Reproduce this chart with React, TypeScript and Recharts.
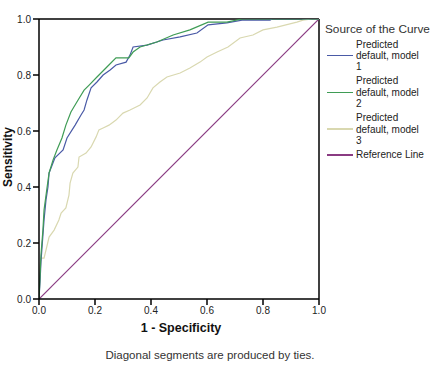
import { Line, LineChart, ReferenceLine, XAxis, YAxis } from "recharts";

type Pt = { x: number; y: number };

// ROC points: x = 1 - specificity, y = sensitivity
const model1: Pt[] = [
  { x: 0, y: 0 }, { x: 0.004, y: 0.068 }, { x: 0.007, y: 0.132 }, { x: 0.018, y: 0.282 },
  { x: 0.025, y: 0.354 }, { x: 0.032, y: 0.4 }, { x: 0.036, y: 0.45 }, { x: 0.057, y: 0.504 },
  { x: 0.086, y: 0.532 }, { x: 0.1, y: 0.575 }, { x: 0.129, y: 0.621 }, { x: 0.15, y: 0.657 },
  { x: 0.161, y: 0.675 }, { x: 0.171, y: 0.71 }, { x: 0.186, y: 0.754 }, { x: 0.207, y: 0.775 },
  { x: 0.229, y: 0.8 }, { x: 0.254, y: 0.818 }, { x: 0.275, y: 0.836 }, { x: 0.311, y: 0.846 },
  { x: 0.325, y: 0.871 }, { x: 0.336, y: 0.9 }, { x: 0.386, y: 0.907 }, { x: 0.443, y: 0.925 },
  { x: 0.504, y: 0.936 }, { x: 0.564, y: 0.95 }, { x: 0.604, y: 0.979 }, { x: 0.671, y: 0.986 },
  { x: 0.725, y: 0.996 }, { x: 0.825, y: 0.996 }, { x: 0.832, y: 1 }, { x: 1, y: 1 },
];

const model2: Pt[] = [
  { x: 0, y: 0 }, { x: 0.004, y: 0.086 }, { x: 0.007, y: 0.157 }, { x: 0.014, y: 0.246 },
  { x: 0.018, y: 0.318 }, { x: 0.029, y: 0.4 }, { x: 0.036, y: 0.45 }, { x: 0.05, y: 0.496 },
  { x: 0.064, y: 0.532 }, { x: 0.082, y: 0.575 }, { x: 0.096, y: 0.621 }, { x: 0.114, y: 0.668 },
  { x: 0.139, y: 0.71 }, { x: 0.161, y: 0.746 }, { x: 0.179, y: 0.764 }, { x: 0.207, y: 0.793 },
  { x: 0.239, y: 0.825 }, { x: 0.275, y: 0.861 }, { x: 0.321, y: 0.861 }, { x: 0.336, y: 0.882 },
  { x: 0.361, y: 0.9 }, { x: 0.421, y: 0.918 }, { x: 0.479, y: 0.943 }, { x: 0.539, y: 0.961 },
  { x: 0.604, y: 0.989 }, { x: 0.671, y: 0.989 }, { x: 0.725, y: 1 }, { x: 1, y: 1 },
];

const model3: Pt[] = [
  { x: 0, y: 0 }, { x: 0.002, y: 0.05 }, { x: 0.004, y: 0.121 }, { x: 0.007, y: 0.146 },
  { x: 0.018, y: 0.146 }, { x: 0.025, y: 0.175 }, { x: 0.036, y: 0.221 }, { x: 0.054, y: 0.246 },
  { x: 0.071, y: 0.282 }, { x: 0.079, y: 0.307 }, { x: 0.096, y: 0.325 }, { x: 0.107, y: 0.371 },
  { x: 0.111, y: 0.414 }, { x: 0.121, y: 0.45 }, { x: 0.139, y: 0.471 }, { x: 0.143, y: 0.507 },
  { x: 0.168, y: 0.521 }, { x: 0.186, y: 0.543 }, { x: 0.204, y: 0.579 }, { x: 0.214, y: 0.604 },
  { x: 0.229, y: 0.611 }, { x: 0.25, y: 0.621 }, { x: 0.275, y: 0.639 }, { x: 0.3, y: 0.664 },
  { x: 0.325, y: 0.675 }, { x: 0.361, y: 0.693 }, { x: 0.386, y: 0.718 }, { x: 0.407, y: 0.754 },
  { x: 0.432, y: 0.775 }, { x: 0.457, y: 0.793 }, { x: 0.504, y: 0.807 }, { x: 0.539, y: 0.825 },
  { x: 0.575, y: 0.846 }, { x: 0.6, y: 0.864 }, { x: 0.636, y: 0.882 }, { x: 0.675, y: 0.9 },
  { x: 0.718, y: 0.932 }, { x: 0.764, y: 0.943 }, { x: 0.8, y: 0.961 }, { x: 0.85, y: 0.971 },
  { x: 0.921, y: 0.989 }, { x: 0.943, y: 0.996 }, { x: 0.975, y: 1 }, { x: 1, y: 1 },
];

const reference: Pt[] = [{ x: 0, y: 0 }, { x: 1, y: 1 }];

const ticks = [0, 0.2, 0.4, 0.6, 0.8, 1];

const legendItems = [
  { label: ["Predicted", "default, model", "1"], color: "#4a5aa6" },
  { label: ["Predicted", "default, model", "2"], color: "#3f9c55" },
  { label: ["Predicted", "default, model", "3"], color: "#d9d8b0" },
  { label: ["Reference Line"], color: "#8a3b82" },
];

const font = '"Liberation Sans", Arial, sans-serif';
const tickStyle = { fill: "#222", fontSize: 10, fontFamily: font };

function App() {
  return (
    <div
      style={{
        position: "absolute",
        left: 0,
        top: 0,
        width: 430,
        height: 375,
        background: "#fff",
        fontFamily: font,
      }}
    >
      <LineChart
        width={430}
        height={375}
        margin={{ top: 19, right: 111, bottom: 46, left: 9 }}
      >
        <XAxis
          type="number"
          dataKey="x"
          domain={[0, 1]}
          ticks={ticks}
          tickFormatter={(v: number) => v.toFixed(1)}
          height={30}
          tickSize={6}
          stroke="#000"
          strokeWidth={1.5}
          tick={tickStyle}
          allowDataOverflow
        />
        <YAxis
          type="number"
          dataKey="y"
          domain={[0, 1]}
          ticks={ticks}
          tickFormatter={(v: number) => v.toFixed(1)}
          width={30}
          tickSize={6}
          stroke="#000"
          strokeWidth={1.5}
          tick={tickStyle}
          allowDataOverflow
        />
        <ReferenceLine y={1} stroke="#000" strokeWidth={1.5} />
        <ReferenceLine x={1} stroke="#000" strokeWidth={1.5} />
        <Line data={reference} dataKey="y" stroke="#8a3b82" strokeWidth={1.2} dot={false} isAnimationActive={false} />
        <Line data={model3} dataKey="y" stroke="#d9d8b0" strokeWidth={1.2} dot={false} isAnimationActive={false} />
        <Line data={model1} dataKey="y" stroke="#4a5aa6" strokeWidth={1.2} dot={false} isAnimationActive={false} />
        <Line data={model2} dataKey="y" stroke="#3f9c55" strokeWidth={1.2} dot={false} isAnimationActive={false} />
      </LineChart>

      <div
        style={{
          position: "absolute",
          left: -42,
          top: 150,
          width: 100,
          textAlign: "center",
          transform: "rotate(-90deg)",
          fontSize: 12,
          fontWeight: "bold",
          color: "#111",
        }}
      >
        Sensitivity
      </div>
      <div
        style={{
          position: "absolute",
          left: 41,
          top: 321,
          width: 280,
          textAlign: "center",
          fontSize: 12.5,
          fontWeight: "bold",
          color: "#111",
        }}
      >
        1 - Specificity
      </div>
      <div
        style={{
          position: "absolute",
          left: 60,
          top: 349,
          width: 300,
          textAlign: "center",
          fontSize: 11.5,
          color: "#333",
        }}
      >
        Diagonal segments are produced by ties.
      </div>

      <div style={{ position: "absolute", left: 325, top: 22, color: "#333" }}>
        <div style={{ fontSize: 11.8, lineHeight: "14px", marginBottom: 2.5 }}>Source of the Curve</div>
        {legendItems.map((item) => (
          <div
            key={item.label.join(" ")}
            style={{ display: "flex", alignItems: "center", marginBottom: 3 }}
          >
            <div style={{ width: 26, height: 1.5, background: item.color, marginLeft: 2, marginRight: 3 }} />
            <div style={{ fontSize: 10, lineHeight: "11.3px", color: "#222" }}>
              {item.label.map((l) => (
                <div key={l}>{l}</div>
              ))}
            </div>
          </div>
        ))}
      </div>
    </div>
  );
}

export default App;
